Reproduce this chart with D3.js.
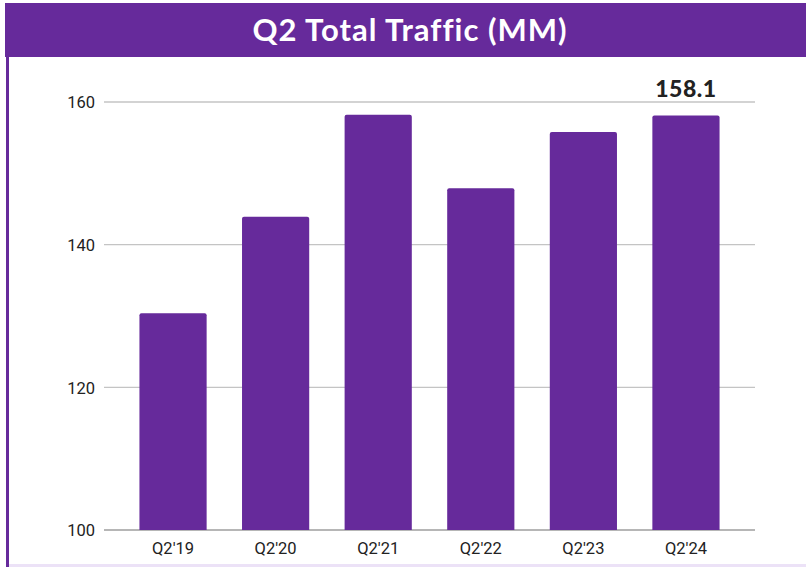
<!DOCTYPE html>
<html>
<head>
<meta charset="utf-8">
<script src="https://cdn.jsdelivr.net/npm/d3@7"></script>
<style>
  body { margin: 0; background: #fff; }
  svg { display: block; }
</style>
</head>
<body>
<div id="chart"></div>
<script>
var width = 806,
    height = 567;

var quarters = ["Q2'19", "Q2'20", "Q2'21", "Q2'22", "Q2'23", "Q2'24"];
var traffic = [130.4, 143.9, 158.2, 147.9, 155.8, 158.1];
var yTicks = [100, 120, 140, 160];
var titleText = "Q2 Total Traffic (MM)";

var purple = '#662a9b';

var svg = d3.select('#chart').append('svg')
    .attr('width', width)
    .attr('height', height);

// frame: title band, left rule, bottom rule
svg.append('rect')
    .attr('x', 5).attr('y', 3)
    .attr('width', width - 5).attr('height', 54)
    .style('fill', purple);
svg.append('rect')
    .attr('x', 6).attr('y', 57)
    .attr('width', 3).attr('height', height - 57)
    .style('fill', purple);
svg.append('rect')
    .attr('x', 9).attr('y', height - 3)
    .attr('width', width - 9).attr('height', 3)
    .style('fill', '#ece2f7');

svg.append('text')
    .attr('x', 410).attr('y', 41)
    .attr('text-anchor', 'middle')
    .style('font-family', 'Lato, sans-serif')
    .style('font-weight', 'bold')
    .style('font-size', '31px')
    .style('letter-spacing', '1px')
    .style('fill', '#fff')
    .text(titleText);

var x = d3.scaleBand()
    .domain(quarters)
    .range([122, 737])
    .paddingInner(0.345)
    .paddingOuter(0.17);

var y = d3.scaleLinear()
    .domain([100, 160])
    .range([530, 102]);

// gridlines
var grid = svg.append('g');
grid.selectAll('line')
    .data(yTicks)
    .enter().append('line')
    .attr('x1', 104).attr('x2', 755)
    .attr('y1', function(d) { return y(d); })
    .attr('y2', function(d) { return y(d); })
    .style('stroke', function(d) { return d === 100 ? '#9e9e9e' : '#c4c4c4'; })
    .style('stroke-width', 1.3);

var yAxis = d3.axisLeft(y).tickValues(yTicks).tickSize(0).tickPadding(0);
svg.append('g')
    .attr('transform', 'translate(95,0)')
    .call(yAxis)
    .attr('font-size', null)
    .attr('font-family', null)
    .call(function(g) { g.select('.domain').remove(); })
    .selectAll('text')
    .attr('dy', '0.35em')
    .style('font-family', 'Roboto, sans-serif')
    .style('font-size', '16.5px')
    .style('fill', '#222');

// bars
svg.append('g').selectAll('path')
    .data(quarters)
    .enter().append('path')
    .attr('d', function(d, i) {
        var x0 = x(d), w = x.bandwidth(), y0 = y(traffic[i]), y1 = y(100), r = 2;
        return 'M' + x0 + ',' + y1 + 'V' + (y0 + r) + 'Q' + x0 + ',' + y0 + ' ' + (x0 + r) + ',' + y0 +
               'H' + (x0 + w - r) + 'Q' + (x0 + w) + ',' + y0 + ' ' + (x0 + w) + ',' + (y0 + r) +
               'V' + y1 + 'Z';
    })
    .style('fill', purple);

var xAxis = d3.axisBottom(x).tickSize(0).tickPadding(0);
svg.append('g')
    .attr('transform', 'translate(0,530)')
    .call(xAxis)
    .attr('font-size', null)
    .attr('font-family', null)
    .call(function(g) { g.select('.domain').remove(); })
    .selectAll('text')
    .attr('dy', '1.45em')
    .style('font-family', 'Roboto, sans-serif')
    .style('font-size', '16.5px')
    .style('fill', '#222');

// value label on last bar
var last = quarters.length - 1;
svg.append('text')
    .attr('x', x(quarters[last]) + x.bandwidth() / 2)
    .attr('y', 97)
    .attr('text-anchor', 'middle')
    .style('font-family', 'Lato, sans-serif')
    .style('font-weight', '900')
    .style('font-size', '23px')
    .style('letter-spacing', '0.5px')
    .style('fill', '#222')
    .text(traffic[last]);
</script>
</body>
</html>
